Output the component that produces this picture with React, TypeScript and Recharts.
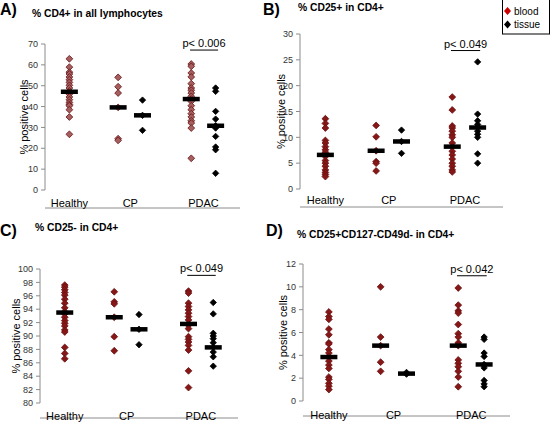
import React from "react";
import { ScatterChart, Scatter, XAxis, YAxis, ReferenceLine } from "recharts";

const FONT = "'Liberation Sans', Arial, Helvetica, sans-serif";

// x slots on a 0..8 axis (Excel-style scatter): healthy, CP blood/tissue, PDAC blood/tissue
const SLOT = { healthyBlood: 1, cpBlood: 3, cpTissue: 4, pdacBlood: 6, pdacTissue: 7 };
const slotTicks = [0, 1, 2, 3, 4, 5, 6, 7, 8];
const groupNames = ["Healthy", "CP", "PDAC"];
const groupTicks = [1, 3.5, 6.5];

// A) % CD4+ in all lymphocytes
const cd4HealthyBlood = [62.9, 58.9, 56.5, 55.6, 54.2, 52.9, 51.6, 50.2, 48.9, 47.5, 46.8, 46, 44.6, 43.3, 42, 41, 40.4, 38.5, 35, 26.7];
const cd4CpBlood = [54, 49.5, 46.5, 39.6, 24.6, 23.8];
const cd4CpTissue = [43.1, 35.8, 28.6];
const cd4PdacBlood = [60.4, 59.3, 56.1, 54.2, 51, 48.9, 47.8, 46.5, 44.9, 43.6, 42.5, 40.4, 38.5, 36.6, 35, 33.2, 32.1, 29.7, 15.2];
const cd4PdacTissue = [48.9, 47.3, 37.7, 34, 30.8, 29.7, 25.7, 20.6, 19.3, 8];
const cd4Medians = [47.1, 39.6, 35.8, 43.6, 30.8];

// B) % CD25+ in CD4+
const cd25HealthyBlood = [13.6, 12.7, 11.8, 9.4, 8.9, 8.2, 7.6, 7.1, 6.6, 6.3, 5.5, 5.0, 4.4, 3.7, 3.2, 2.8, 2.4];
const cd25CpBlood = [12.3, 10.1, 7.4, 5.3, 5.0, 3.5];
const cd25CpTissue = [11.4, 9.2, 6.9];
const cd25PdacBlood = [17.8, 15.3, 12.2, 11.8, 11.2, 10.5, 10, 8.9, 8.2, 7.3, 6.6, 5.8, 5.0, 4.4, 3.7, 3.3];
const cd25PdacTissue = [24.6, 14.5, 13.2, 12.5, 11.9, 11.2, 10.6, 10, 6.8, 5.0];
const cd25Medians = [6.6, 7.4, 9.2, 8.2, 11.9];

// C) % CD25- in CD4+
const negHealthyBlood = [97.6, 97.3, 96.9, 96.5, 96.1, 95.5, 94.9, 94.2, 93.6, 93.3, 92.8, 92.3, 91.9, 91.5, 90.9, 90.6, 88.3, 87.4, 86.6];
const negCpBlood = [96.6, 95.1, 94.8, 92.8, 89.9, 87.8];
const negCpTissue = [93.2, 91, 88.7];
const negPdacBlood = [96.7, 96.4, 94.9, 94.4, 93.9, 93.4, 92.9, 92.4, 91.8, 91.6, 91.1, 89.9, 89.5, 89.1, 88.6, 87.9, 84.8, 82.3];
const negPdacTissue = [95, 93.3, 90.4, 90, 89.6, 89, 88.3, 87.6, 86.9, 85.5];
const negMedians = [93.5, 92.8, 91, 91.8, 88.3];

// D) % CD25+CD127-CD49d- in CD4+
const tregHealthyBlood = [7.8, 7.4, 7.15, 6.3, 5.8, 5.1, 5.0, 4.5, 4.2, 3.9, 3.5, 3.15, 2.85, 2.1, 1.9, 1.55, 1.3, 1.0];
const tregCpBlood = [10, 5.6, 4.85, 3.4, 2.6];
const tregCpTissue = [2.5, 2.35];
const tregPdacBlood = [9.9, 8.4, 7.9, 7.7, 6.7, 5.9, 5.6, 5.1, 4.95, 4.85, 3.6, 3.3, 3.0, 2.6, 2.1, 1.25];
const tregPdacTissue = [5.6, 5.4, 4.2, 3.9, 3.2, 3.1, 2.9, 1.8, 1.5, 1.25];
const tregMedians = [3.85, 4.85, 2.4, 4.85, 3.2];

const pts = (x: number, vals: number[]) => vals.map((y) => ({ x, y }));

const diamond = (fill: string, stroke: string, r: number) => (props: any) => {
  const { cx, cy } = props;
  if (cx == null || cy == null) return <g />;
  return (
    <polygon
      points={`${cx},${cy - r} ${cx + r},${cy} ${cx},${cy + r} ${cx - r},${cy}`}
      fill={fill}
      stroke={stroke}
      strokeWidth={0.8}
    />
  );
};

const MedianBar = (props: any) => {
  const { cx, cy } = props;
  if (cx == null || cy == null) return <g />;
  return <rect x={cx - 8.5} y={cy - 2.25} width={17} height={4.5} fill="#000" />;
};

interface PanelProps {
  box: { left: number; top: number; width: number; height: number };
  margin: { top: number; right: number; bottom: number; left: number };
  yWidth: number;
  catHeight: number;
  catMargin: number;
  yDomain: [number, number];
  yTicks: number[];
  healthy: number[];
  cpBlood: number[];
  cpTissue: number[];
  pdacBlood: number[];
  pdacTissue: number[];
  medians: number[];
  pLabel: string;
  pY: number;
  bloodFill: string;
}

const Panel: React.FC<PanelProps> = (p) => {
  const blood = [
    ...pts(SLOT.healthyBlood, p.healthy),
    ...pts(SLOT.cpBlood, p.cpBlood),
    ...pts(SLOT.pdacBlood, p.pdacBlood),
  ];
  const tissue = [...pts(SLOT.cpTissue, p.cpTissue), ...pts(SLOT.pdacTissue, p.pdacTissue)];
  const slots = [SLOT.healthyBlood, SLOT.cpBlood, SLOT.cpTissue, SLOT.pdacBlood, SLOT.pdacTissue];
  const medians = p.medians.map((y, i) => ({ x: slots[i], y }));

  return (
    <div style={{ position: "absolute", ...p.box }}>
      <ScatterChart width={p.box.width} height={p.box.height} margin={p.margin}>
        <XAxis
          xAxisId="grid"
          type="number"
          dataKey="x"
          domain={[0, 8]}
          ticks={slotTicks}
          tick={false}
          tickSize={4}
          height={4}
          axisLine={{ stroke: "#8c8c8c" }}
          tickLine={{ stroke: "#8c8c8c" }}
        />
        <XAxis
          xAxisId="cat"
          type="number"
          dataKey="x"
          domain={[0, 8]}
          ticks={groupTicks}
          tickFormatter={(v: number) => groupNames[groupTicks.indexOf(v)] ?? ""}
          axisLine={false}
          tickLine={false}
          tickSize={0}
          tickMargin={p.catMargin}
          height={p.catHeight}
          interval={0}
          tick={{ fontSize: 11, fill: "#000", fontFamily: FONT }}
        />
        <YAxis
          type="number"
          dataKey="y"
          domain={p.yDomain}
          ticks={p.yTicks}
          interval={0}
          width={p.yWidth}
          tickSize={4}
          tickMargin={3}
          axisLine={{ stroke: "#8c8c8c" }}
          tickLine={{ stroke: "#8c8c8c" }}
          tick={{ fontSize: 9, fill: "#333", fontFamily: FONT }}
          label={{
            value: "% positive cells",
            angle: -90,
            position: "center",
            style: { fontSize: 11, fill: "#000", fontFamily: FONT },
          }}
        />
        <ReferenceLine
          xAxisId="grid"
          segment={[
            { x: 5.95, y: p.pY },
            { x: 7.1, y: p.pY },
          ]}
          stroke="#000"
          strokeWidth={1}
          label={{ value: p.pLabel, position: "top", offset: 3, fill: "#000", fontSize: 11, fontFamily: FONT }}
        />
        <Scatter xAxisId="grid" data={blood} shape={diamond(p.bloodFill, "#6a1010", 3.4)} isAnimationActive={false} />
        <Scatter xAxisId="grid" data={tissue} shape={diamond("#000", "#000", 3.2)} isAnimationActive={false} />
        <Scatter xAxisId="cat" data={medians} shape={MedianBar} isAnimationActive={false} />
      </ScatterChart>
    </div>
  );
};

const range = (a: number, b: number, s: number) => {
  const out: number[] = [];
  for (let v = a; v <= b + 1e-9; v += s) out.push(v);
  return out;
};

export default function App() {
  return (
    <div
      style={{
        position: "absolute",
        left: 0,
        top: 0,
        width: 557,
        height: 422,
        background: "#fff",
        overflow: "hidden",
        fontFamily: FONT,
      }}
    >
      <Panel
        box={{ left: 0, top: 0, width: 260, height: 212 }}
        margin={{ top: 44, right: 20, bottom: 0, left: 3 }}
        yWidth={42}
        catHeight={18}
        catMargin={9}
        yDomain={[0, 70]}
        yTicks={range(0, 70, 10)}
        healthy={cd4HealthyBlood}
        cpBlood={cd4CpBlood}
        cpTissue={cd4CpTissue}
        pdacBlood={cd4PdacBlood}
        pdacTissue={cd4PdacTissue}
        medians={cd4Medians}
        pLabel="p< 0.006"
        pY={67.1}
        bloodFill="#a45f60"
      />
      <Panel
        box={{ left: 260, top: 0, width: 297, height: 212 }}
        margin={{ top: 34, right: 54, bottom: 1, left: 2 }}
        yWidth={38}
        catHeight={18}
        catMargin={7}
        yDomain={[0, 30]}
        yTicks={range(0, 30, 5)}
        healthy={cd25HealthyBlood}
        cpBlood={cd25CpBlood}
        cpTissue={cd25CpTissue}
        pdacBlood={cd25PdacBlood}
        pdacTissue={cd25PdacTissue}
        medians={cd25Medians}
        pLabel="p< 0.049"
        pY={26.8}
        bloodFill="#861717"
      />
      <Panel
        box={{ left: -10, top: 212, width: 270, height: 210 }}
        margin={{ top: 57, right: 22, bottom: 0, left: 3 }}
        yWidth={47}
        catHeight={15}
        catMargin={9}
        yDomain={[80, 100]}
        yTicks={range(80, 100, 2)}
        healthy={negHealthyBlood}
        cpBlood={negCpBlood}
        cpTissue={negCpTissue}
        pdacBlood={negPdacBlood}
        pdacTissue={negPdacTissue}
        medians={negMedians}
        pLabel="p< 0.049"
        pY={99.05}
        bloodFill="#861717"
      />
      <Panel
        box={{ left: 260, top: 212, width: 297, height: 210 }}
        margin={{ top: 52, right: 47, bottom: 2, left: 3 }}
        yWidth={40}
        catHeight={15}
        catMargin={10}
        yDomain={[0, 12]}
        yTicks={range(0, 12, 2)}
        healthy={tregHealthyBlood}
        cpBlood={tregCpBlood}
        cpTissue={tregCpTissue}
        pdacBlood={tregPdacBlood}
        pdacTissue={tregPdacTissue}
        medians={tregMedians}
        pLabel="p< 0.042"
        pY={10.97}
        bloodFill="#861717"
      />

      {/* panel letters, titles and the shared legend */}
      <svg
        width={557}
        height={422}
        style={{ position: "absolute", left: 0, top: 0, pointerEvents: "none" }}
        fontFamily={FONT}
      >
        <text x={0} y={15} fontSize={16} fontWeight="bold">A)</text>
        <text x={32} y={17} fontSize={10.3} fontWeight="bold">% CD4+ in all lymphocytes</text>
        <text x={263} y={15} fontSize={16} fontWeight="bold">B)</text>
        <text x={298} y={10.5} fontSize={10.3} fontWeight="bold">% CD25+ in CD4+</text>
        <text x={0} y={236} fontSize={16} fontWeight="bold">C)</text>
        <text x={35} y={230.5} fontSize={10.3} fontWeight="bold">% CD25- in CD4+</text>
        <text x={266} y={236} fontSize={16} fontWeight="bold">D)</text>
        <text x={297} y={238} fontSize={10.3} fontWeight="bold">% CD25+CD127-CD49d- in CD4+</text>

        <rect x={502.5} y={-0.5} width={47} height={34.5} fill="#fff" stroke="#000" strokeWidth={1} />
        <polygon points="507.5,7 511,11 507.5,15 504,11" fill="#cc0000" />
        <text x={514} y={15} fontSize={10}>blood</text>
        <polygon points="507.5,20.5 511,24.5 507.5,28.5 504,24.5" fill="#000" />
        <text x={514} y={28} fontSize={10}>tissue</text>
      </svg>
    </div>
  );
}
